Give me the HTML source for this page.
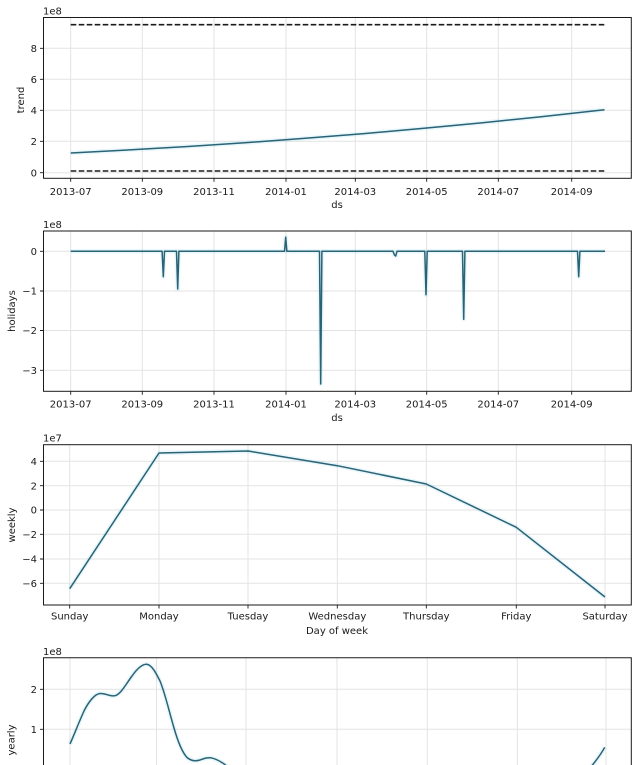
<!DOCTYPE html>
<html><head><meta charset="utf-8"><style>
html,body{margin:0;padding:0;background:#fff;}
svg{display:block;}
text{font-family:"DejaVu Sans","Liberation Sans",sans-serif;font-size:10px;fill:#1a1a1a;}
.g{stroke:#e3e3e3;stroke-width:1;fill:none;}
.ax{stroke:#1a1a1a;stroke-width:1;fill:none;}
.tk{stroke:#1a1a1a;stroke-width:0.9;}
.ln{stroke:#2a6375;stroke-width:1.5;fill:none;stroke-linejoin:round;}
.halo{stroke:rgba(0,170,220,0.09);stroke-width:4.5;fill:none;stroke-linejoin:round;}
.dash{stroke:#1a1a1a;stroke-width:1.6;stroke-dasharray:5.6,2.4;fill:none;}
</style></head><body>
<svg width="638" height="765" viewBox="0 0 638 765" xmlns="http://www.w3.org/2000/svg">
<rect width="638" height="765" fill="#fff"/>

<!-- ================= Panel 1: trend ================= -->
<g>
<path class="g" d="M70.7,17.5V178.3M142.3,17.5V178.3M214,17.5V178.3M286,17.5V178.3M355.3,17.5V178.3M426.7,17.5V178.3M498.3,17.5V178.3M571.7,17.5V178.3"/>
<path class="g" d="M43.5,172.7H631.3M43.5,141.3H631.3M43.5,110.3H631.3M43.5,79.3H631.3M43.5,48.3H631.3"/>
<polyline class="halo" points="70.7,152.95 129.4,149.93 188,146.49 246.7,142.61 305.4,138.31 364,133.58 422.7,128.43 481.4,122.84 540,116.83 604.5,109.72"/>
<polyline class="ln" points="70.7,152.95 129.4,149.93 188,146.49 246.7,142.61 305.4,138.31 364,133.58 422.7,128.43 481.4,122.84 540,116.83 604.5,109.72"/>
<line class="dash" x1="70.7" y1="24.7" x2="605" y2="24.7"/>
<line class="dash" x1="70.7" y1="171" x2="605" y2="171"/>
<rect class="ax" x="43.5" y="17.5" width="587.8" height="160.8"/>
<path class="tk" d="M70.7,178.3v3.5M142.3,178.3v3.5M214,178.3v3.5M286,178.3v3.5M355.3,178.3v3.5M426.7,178.3v3.5M498.3,178.3v3.5M571.7,178.3v3.5"/>
<path class="tk" d="M43.5,172.7h-3.5M43.5,141.3h-3.5M43.5,110.3h-3.5M43.5,79.3h-3.5M43.5,48.3h-3.5"/>
<g text-anchor="middle">
<text x="70.7" y="195">2013-07</text><text x="142.3" y="195">2013-09</text><text x="214" y="195">2013-11</text><text x="286" y="195">2014-01</text>
<text x="355.3" y="195">2014-03</text><text x="426.7" y="195">2014-05</text><text x="498.3" y="195">2014-07</text><text x="571.7" y="195">2014-09</text>
<text x="337" y="208">ds</text>
</g>
<g text-anchor="end">
<text x="37" y="176.3">0</text><text x="37" y="144.9">2</text><text x="37" y="113.9">4</text><text x="37" y="82.9">6</text><text x="37" y="51.9">8</text>
</g>
<text x="43" y="14.5">1e8</text>
<text transform="translate(24,100) rotate(-90)" text-anchor="middle">trend</text>
</g>

<!-- ================= Panel 2: holidays ================= -->
<g>
<path class="g" d="M70.7,231V391.3M142.3,231V391.3M214,231V391.3M286,231V391.3M355.3,231V391.3M426.7,231V391.3M498.3,231V391.3M571.7,231V391.3"/>
<path class="g" d="M43.5,251.3H631.3M43.5,291H631.3M43.5,330.5H631.3M43.5,370.3H631.3"/>
<path class="halo" d="M70.7,251.3 L162.1,251.3 L163.3,276.7 L164.5,251.3 L176.5,251.3 L177.7,289 L178.9,251.3 L284.5,251.3 L285.7,237.3 L286.9,251.3 L319.5,251.3 L320.7,384 L321.9,251.3 L393,251.3 L394.5,255 L395.7,256 L397,251.3 L424.8,251.3 L426,294.7 L427.2,251.3 L462.5,251.3 L463.7,319.3 L464.9,251.3 L577.5,251.3 L578.7,276.7 L579.9,251.3 L605,251.3"/>
<path class="ln" d="M70.7,251.3 L162.1,251.3 L163.3,276.7 L164.5,251.3 L176.5,251.3 L177.7,289 L178.9,251.3 L284.5,251.3 L285.7,237.3 L286.9,251.3 L319.5,251.3 L320.7,384 L321.9,251.3 L393,251.3 L394.5,255 L395.7,256 L397,251.3 L424.8,251.3 L426,294.7 L427.2,251.3 L462.5,251.3 L463.7,319.3 L464.9,251.3 L577.5,251.3 L578.7,276.7 L579.9,251.3 L605,251.3"/>
<rect class="ax" x="43.5" y="231" width="587.8" height="160.3"/>
<path class="tk" d="M70.7,391.3v3.5M142.3,391.3v3.5M214,391.3v3.5M286,391.3v3.5M355.3,391.3v3.5M426.7,391.3v3.5M498.3,391.3v3.5M571.7,391.3v3.5"/>
<path class="tk" d="M43.5,251.3h-3.5M43.5,291h-3.5M43.5,330.5h-3.5M43.5,370.3h-3.5"/>
<g text-anchor="middle">
<text x="70.7" y="407.5">2013-07</text><text x="142.3" y="407.5">2013-09</text><text x="214" y="407.5">2013-11</text><text x="286" y="407.5">2014-01</text>
<text x="355.3" y="407.5">2014-03</text><text x="426.7" y="407.5">2014-05</text><text x="498.3" y="407.5">2014-07</text><text x="571.7" y="407.5">2014-09</text>
<text x="337" y="421">ds</text>
</g>
<g text-anchor="end">
<text x="37" y="254.9">0</text><text x="37" y="294.6">−1</text><text x="37" y="334.1">−2</text><text x="37" y="373.9">−3</text>
</g>
<text x="43" y="228">1e8</text>
<text transform="translate(15,311) rotate(-90)" text-anchor="middle">holidays</text>
</g>

<!-- ================= Panel 3: weekly ================= -->
<g>
<path class="g" d="M69.7,444.7V605M159,444.7V605M248,444.7V605M337.3,444.7V605M426.3,444.7V605M516.3,444.7V605M605,444.7V605"/>
<path class="g" d="M43.5,461.3H631.3M43.5,485.7H631.3M43.5,510H631.3M43.5,534.3H631.3M43.5,559H631.3M43.5,583.3H631.3"/>
<polyline class="halo" points="69.7,588.7 159,453 248,451 337.3,465.7 426.3,484 516.3,527.3 605,597"/>
<polyline class="ln" points="69.7,588.7 159,453 248,451 337.3,465.7 426.3,484 516.3,527.3 605,597"/>
<rect class="ax" x="43.5" y="444.7" width="587.8" height="160.3"/>
<path class="tk" d="M69.7,605v3.5M159,605v3.5M248,605v3.5M337.3,605v3.5M426.3,605v3.5M516.3,605v3.5M605,605v3.5"/>
<path class="tk" d="M43.5,461.3h-3.5M43.5,485.7h-3.5M43.5,510h-3.5M43.5,534.3h-3.5M43.5,559h-3.5M43.5,583.3h-3.5"/>
<g text-anchor="middle">
<text x="69.7" y="619.5">Sunday</text><text x="159" y="619.5">Monday</text><text x="248" y="619.5">Tuesday</text><text x="337.3" y="619.5">Wednesday</text>
<text x="426.3" y="619.5">Thursday</text><text x="516.3" y="619.5">Friday</text><text x="605" y="619.5">Saturday</text>
<text x="337" y="634">Day of week</text>
</g>
<g text-anchor="end">
<text x="37" y="464.9">4</text><text x="37" y="489.3">2</text><text x="37" y="513.6">0</text><text x="37" y="537.9">−2</text><text x="37" y="562.6">−4</text><text x="37" y="586.9">−6</text>
</g>
<text x="43" y="441.5">1e7</text>
<text transform="translate(15,525) rotate(-90)" text-anchor="middle">weekly</text>
</g>

<!-- ================= Panel 4: yearly ================= -->
<g>
<path class="g" d="M70,657.7V800M156.5,657.7V800M246,657.7V800M337,657.7V800M427.3,657.7V800M517.3,657.7V800M606,657.7V800"/>
<path class="g" d="M43.5,689.3H631.3M43.5,729.3H631.3"/>
<path class="halo" d="M70,744 C74,735 79,722 84,711 C89,701 95,694 100,693.5 C106,693 110,697 115,695.7 C121,694 126,684 132,676 C137,669 142,664 146.7,664.3 C152,665 156,673 160,681 C165,693 169,711 174,728 C178,742 182,752 187,757.5 C191,761 195,761.5 200,760 C204,758.5 207,757.3 211,757.8 C217,759 222,762 228,767"/>
<path class="ln" d="M70,744 C74,735 79,722 84,711 C89,701 95,694 100,693.5 C106,693 110,697 115,695.7 C121,694 126,684 132,676 C137,669 142,664 146.7,664.3 C152,665 156,673 160,681 C165,693 169,711 174,728 C178,742 182,752 187,757.5 C191,761 195,761.5 200,760 C204,758.5 207,757.3 211,757.8 C217,759 222,762 228,767"/>
<path class="halo" d="M590,768 C595,762 600,756 604.7,747.3"/>
<path class="ln" d="M590,768 C595,762 600,756 604.7,747.3"/>
<path class="ax" d="M43.5,800V657.7H631.3V800"/>
<path class="tk" d="M43.5,689.3h-3.5M43.5,729.3h-3.5"/>
<g text-anchor="end">
<text x="37" y="692.9">2</text><text x="37" y="732.9">1</text>
</g>
<text x="43" y="655">1e8</text>
<text transform="translate(14.5,740) rotate(-90)" text-anchor="middle">yearly</text>
</g>
</svg>
</body></html>
